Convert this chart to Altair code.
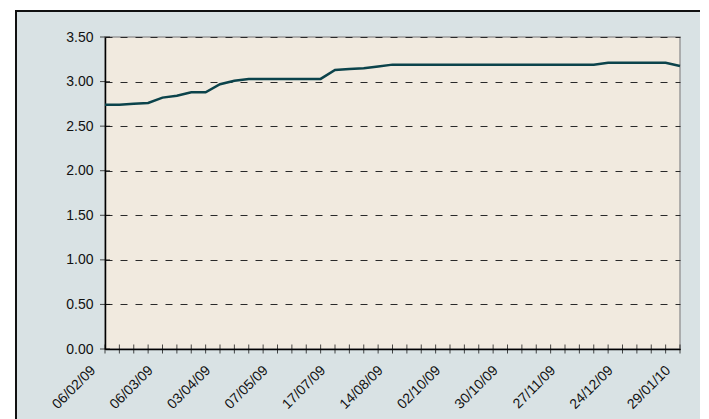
import altair as alt
import pandas as pd

dates = [
    "06/02/09", "13/02/09", "20/02/09", "27/02/09", "06/03/09", "13/03/09",
    "20/03/09", "27/03/09", "03/04/09", "09/04/09", "17/04/09", "30/04/09",
    "07/05/09", "22/05/09", "05/06/09", "03/07/09", "17/07/09", "24/07/09",
    "31/07/09", "07/08/09", "14/08/09", "28/08/09", "11/09/09", "18/09/09",
    "02/10/09", "09/10/09", "16/10/09", "23/10/09", "30/10/09", "06/11/09",
    "13/11/09", "20/11/09", "27/11/09", "04/12/09", "11/12/09", "18/12/09",
    "24/12/09", "31/12/09", "08/01/10", "15/01/10", "29/01/10",
]
rates = [
    2.74, 2.74, 2.75, 2.76, 2.82, 2.84,
    2.88, 2.88, 2.97, 3.01, 3.03, 3.03,
    3.03, 3.03, 3.03, 3.03, 3.13, 3.14,
    3.15, 3.17, 3.19, 3.19, 3.19, 3.19,
    3.19, 3.19, 3.19, 3.19, 3.19, 3.19,
    3.19, 3.19, 3.19, 3.19, 3.19, 3.21,
    3.21, 3.21, 3.21, 3.21, 3.175,
]
y_ticks = [0.0, 0.5, 1.0, 1.5, 2.0, 2.5, 3.0, 3.5]
shown_labels = dates[::4]

W, H = 575, 312
FONT = "Liberation Sans"

df = pd.DataFrame({"date": dates, "rate": rates})
ydf = pd.DataFrame({"v": y_ticks})
one = pd.DataFrame({"k": [0]})

label_expr = ("indexof([" + ",".join(f"'{d}'" for d in shown_labels) +
              "], datum.value) >= 0 ? datum.value : ''")

xscale = alt.Scale(type="point", domain=dates, padding=0)
yscale = alt.Scale(domain=[0, 3.5], nice=False, zero=True)

xaxis = alt.Axis(labelExpr=label_expr, labelAngle=-45, labelAlign="right",
                 labelBaseline="middle", labelPadding=19, labelOffset=-12,
                 labelOverlap=False,
                 ticks=False, grid=False, domainColor="#000",
                 domainWidth=1.5, labelFont=FONT, labelFontSize=14,
                 labelColor="#111", title=None)
yaxis = alt.Axis(values=y_ticks, format=".2f", ticks=False,
                 grid=True, gridColor="#2a2a2a", gridWidth=1, gridDash=[7, 8],
                 domainColor="#000", domainWidth=1.5,
                 labelFont=FONT, labelFontSize=14, labelColor="#111",
                 labelPadding=12, title=None)

# white page margin outside the framed panel, and the panel's black frame
strip_left = alt.Chart(one).mark_rect(fill="white").encode(
    x=alt.value(-97), x2=alt.value(-89), y=alt.value(-29), y2=alt.value(H + 80))
strip_top = alt.Chart(one).mark_rect(fill="white").encode(
    x=alt.value(-97), x2=alt.value(W + 20), y=alt.value(-29), y2=alt.value(-26))
frame = alt.Chart(one).mark_rect(fill="transparent", stroke="#111", strokeWidth=2).encode(
    x=alt.value(16 - 105), x2=alt.value(701 - 105),
    y=alt.value(11 - 37), y2=alt.value(440 - 37))

line = alt.Chart(df).mark_line(color="#0B434B", strokeWidth=2.5).encode(
    x=alt.X("date:O", scale=xscale, sort=None, axis=xaxis),
    y=alt.Y("rate:Q", scale=yscale, axis=yaxis))

xticks = alt.Chart(df).mark_tick(orient="vertical", size=9, thickness=1, color="#000").encode(
    x=alt.X("date:O", scale=xscale, sort=None, axis=xaxis), y=alt.value(H))

yticks = alt.Chart(ydf).mark_tick(orient="horizontal", size=10, thickness=1, color="#000").encode(
    y=alt.Y("v:Q", scale=yscale, axis=yaxis), x=alt.value(0))

chart = alt.layer(strip_left, strip_top, frame, line, xticks, yticks).properties(
    width=W, height=H,
    autosize=alt.AutoSizeParams(type="none"),
    padding={"left": 97, "top": 29, "right": 20, "bottom": 80},
    background="#D9E2E4",
).configure_view(fill="#F1EADF", stroke="#9A9A9A", strokeWidth=1.5)

chart.save("out.html", embed_options={"renderer": "svg", "actions": False})
